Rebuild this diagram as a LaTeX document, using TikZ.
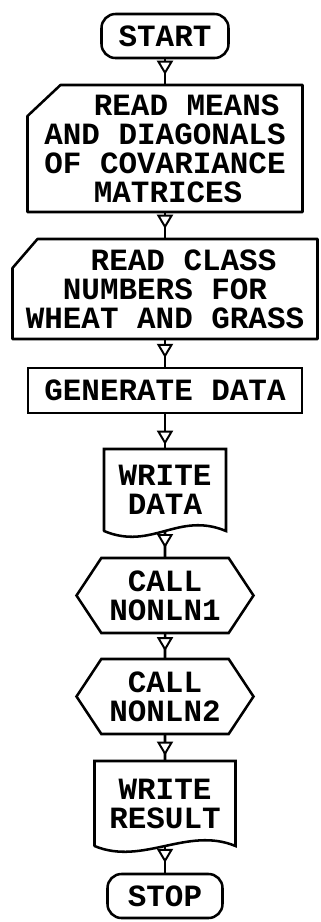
\documentclass[tikz,border=0pt]{standalone}
\usepackage{fontspec}
\newfontfamily\plotfont{Liberation Mono}
\usetikzlibrary{positioning,shapes.symbols,arrows.meta,decorations.markings}

\begin{document}
\begin{tikzpicture}[line width=1.8pt,
  every node/.style={font=\fontsize{22}{20.6}\selectfont\plotfont\bfseries, outer sep=0pt, inner sep=2pt},
  terminal/.style={draw, rounded corners=3.5mm, minimum height=11mm},
  card/.style={align=left},
  process/.style={draw, minimum height=11.25mm},
  printout/.style={align=center},
  subcall/.style={draw, signal, signal to=east and west, signal pointer angle=113, align=center, minimum width=44.25mm, minimum height=18.75mm},
  flow/.style={postaction=decorate, decoration={markings, mark=at position #1 with {\arrow{Triangle[width=4mm, length=3.5mm, fill=white, line width=1.4pt]}}}},
  flow/.default=0.62]
\useasboundingbox (0,0) rectangle (80.25mm,-230.5mm);

\node[terminal, minimum width=31.75mm] (start) at (41.25mm,-9mm) {START};
\node[card, minimum width=68.75mm, minimum height=31.75mm, below = 6.75mm of start] (means) {\hspace*{1.6em}READ MEANS\\AND DIAGONALS\\OF COVARIANCE\\\hspace*{1.6em}MATRICES};
\node[card, minimum width=76.25mm, minimum height=25mm, below = 6.75mm of means] (classes) {\hspace*{2.1em}READ CLASS\\\hspace*{1.2em}NUMBERS FOR\\WHEAT AND GRASS};
\node[process, minimum width=68.5mm, below = 7.25mm of classes] (gen) {GENERATE DATA};
\node[printout, minimum width=30.5mm, minimum height=20.5mm, below = 9mm of gen] (wdata) {WRITE\\DATA};
\node[subcall, below = 6.75mm of wdata] (call1) {CALL\\NONLN1};
\node[subcall, below = 6.5mm of call1] (call2) {CALL\\NONLN2};
\node[printout, minimum width=35.25mm, minimum height=21.25mm, below = 6.75mm of call2] (wres) {WRITE\\RESULT};
\node[terminal, minimum width=28.75mm, below = 7mm of wres] (stop) {STOP};

% punched cards: top left corner cut off
\foreach \c/\cx/\cy in {means/8.25mm/7.75mm, classes/6.25mm/7.25mm}
  \draw[line join=round] (\c.north east) -- (\c.south east) -- (\c.south west)
    -- ([yshift=-\cy]\c.north west) -- ([xshift=\cx]\c.north west) -- cycle;

% printed output: wavy lower edge
\foreach \d in {wdata,wres}
  \draw[line cap=round] (\d.south west) -- (\d.north west) -- (\d.north east) -- (\d.south east)
    .. controls +(-12mm,5mm) and +(12mm,-5mm) .. (\d.south west);

\draw[flow] (start) -- (means);
\draw[flow] (means) -- (classes);
\draw[flow=0.65] (classes) -- (gen);
\draw[flow=0.88] (gen) -- (wdata);
\draw[flow=0.63] (wdata) -- (call1);
\draw[flow=0.7] (call1) -- (call2);
\draw[flow=0.8] (call2) -- (wres);
\draw[flow=0.6] (wres) -- (stop);
\end{tikzpicture}
\end{document}
